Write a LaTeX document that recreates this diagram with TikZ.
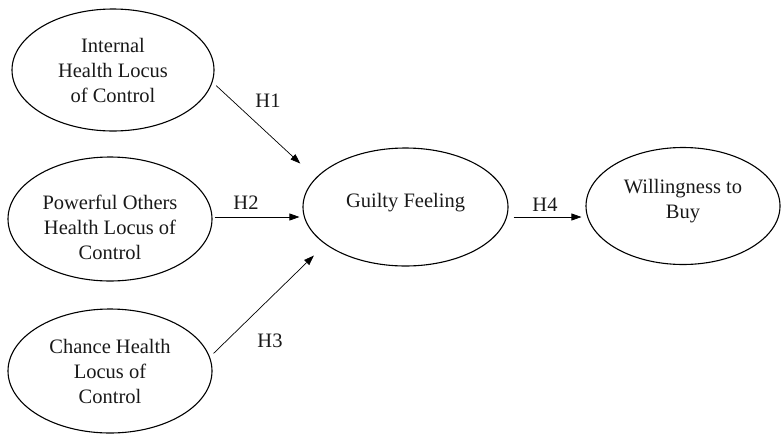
\documentclass[tikz,border=0pt]{standalone}
\usepackage{fontspec}
\setmainfont{Liberation Serif}
\usetikzlibrary{shapes.geometric,arrows.meta}
\begin{document}
\begin{tikzpicture}[x=1pt,y=-1pt,
  construct/.style={draw, ellipse, line width=1.1pt, inner sep=0pt, align=center,
    font=\fontsize{20.5}{25}\selectfont, text=black!90},
  txt/.style={inner sep=0pt, align=center, font=\fontsize{20.5}{25}\selectfont, text=black!90},
  arr/.style={line width=0.7pt, -{Triangle[length=10pt,width=7pt]}},
  hlab/.style={inner sep=0pt, font=\fontsize{20.5}{25}\selectfont, text=black!90}]
\useasboundingbox (0,0) rectangle (783,434);
\node[construct, minimum width=202pt, minimum height=122pt] (int) at (113,70) {Internal\\Health Locus\\of Control};
\node[construct, minimum width=204pt, minimum height=124pt] (pow) at (110,219) {};
\node[txt] (powt) at ([yshift=-8pt]pow.center) {Powerful Others\\Health Locus of\\Control};
\node[construct, minimum width=204pt, minimum height=124pt] (cha) at (110,371) {Chance Health\\Locus of\\Control};
\node[construct, minimum width=205pt, minimum height=118pt] (gf) at (405.5,207) {};
\node[txt] (gft) at ([yshift=4pt]gf.center) {Guilty Feeling};
\node[construct, minimum width=194pt, minimum height=117pt] (wb) at (683,206) {};
\node[txt] (wbt) at ([yshift=5pt]wb.center) {Willingness to\\Buy};

\draw[arr, shorten <=5pt, shorten >=21pt] (int.-7) -- (gf.162.7);
\draw[arr, shorten <=2pt, shorten >=3pt] ([yshift=2pt]pow.east) -- ([yshift=2pt]pow.east -| gf.west);
\draw[arr, shorten <=5pt, shorten >=16pt] (cha.8) -- (gf.205.6);
\draw[arr, shorten <=5pt, shorten >=4pt] ([yshift=-10pt]gf.east) -- ([yshift=-10pt]gf.east -| wb.west);

\node[hlab] (h1) at (268,101) {H1};
\node[hlab] (h2) at (246,203) {H2};
\node[hlab] (h3) at (270,341) {H3};
\node[hlab] (h4) at (545,205) {H4};
\end{tikzpicture}
\end{document}
